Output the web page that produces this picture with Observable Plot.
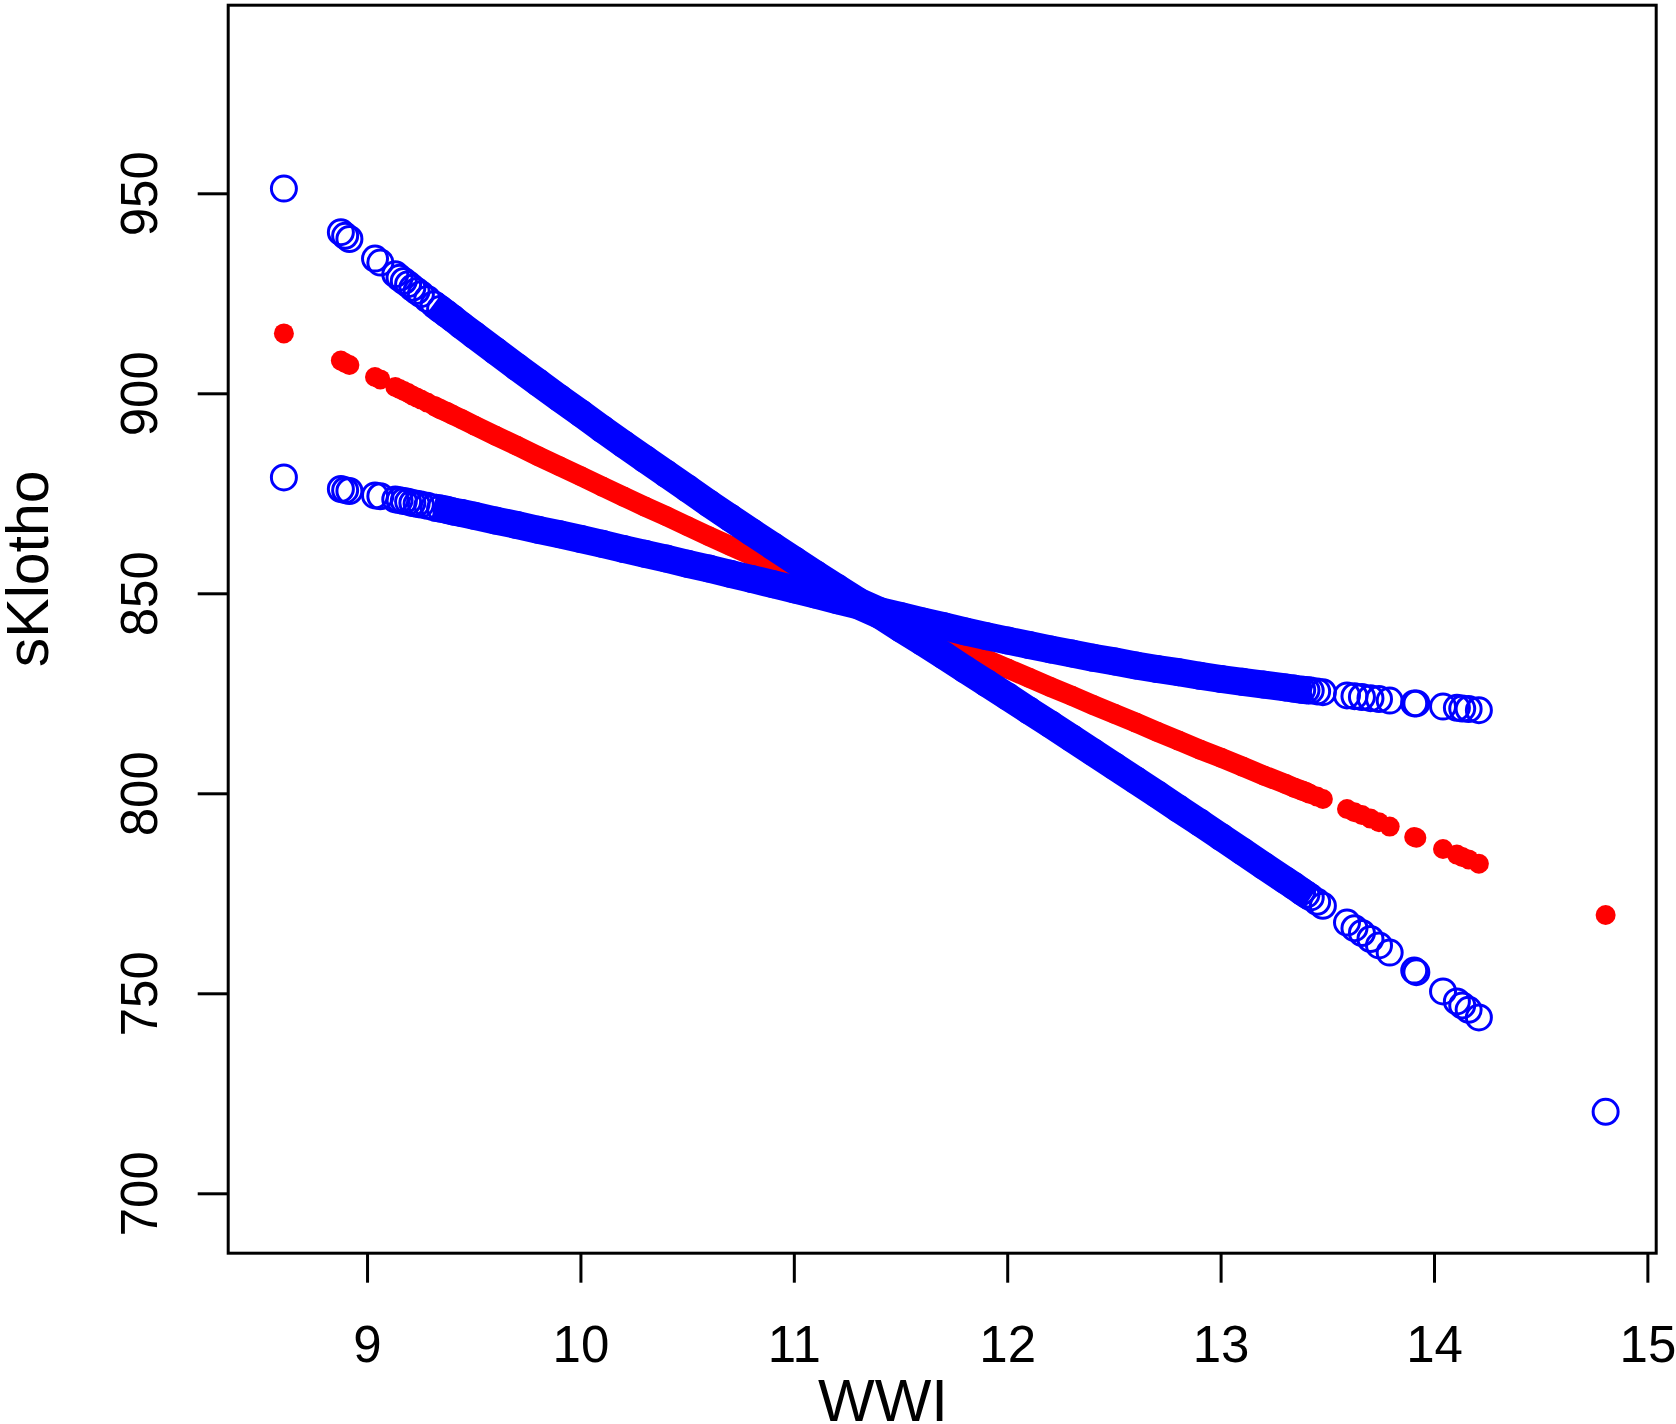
<!DOCTYPE html>
<html>
<head>
<meta charset="utf-8">
<script src="https://cdn.jsdelivr.net/npm/d3@7"></script>
<script src="https://cdn.jsdelivr.net/npm/@observablehq/plot@0.6"></script>
<style>
  html, body { margin: 0; padding: 0; background: #fff; overflow: hidden; }
  #chart svg { display: block; }
</style>
</head>
<body>
<div id="chart"></div>
<script>
// ---- data ----
const wwi = [8.608, 8.875, 8.895, 8.915, 9.035, 9.06,
  9.13, 9.15, 9.17, 9.19, 9.21, 9.23, 9.25, 9.28, 9.31, 9.34, 9.37, 9.4, 9.44, 9.5,
  9.6, 9.7, 9.8, 9.9, 10.0, 10.1, 10.2, 10.3, 10.4, 10.5, 10.6, 10.7, 10.8, 10.9, 11.0, 11.1, 11.2, 11.3, 11.4, 11.5,
  11.6, 11.7, 11.8, 11.9, 12.0, 12.1, 12.2, 12.3, 12.4, 12.5, 12.6, 12.7, 12.8, 12.9, 13.0, 13.1, 13.2, 13.3,
  13.34, 13.38, 13.4, 13.42, 13.45, 13.477,
  13.59, 13.625, 13.66, 13.7, 13.74, 13.79, 13.905, 13.915, 14.04, 14.105, 14.13, 14.16, 14.208, 14.802];

const fit = [915.1, 908.3, 907.7, 907.2, 904.2, 903.6,
  901.7, 901.2, 900.7, 900.2, 899.6, 899.1, 898.6, 897.8, 897.0, 896.2, 895.5, 894.7, 893.7, 892.1,
  889.5, 887.0, 884.4, 881.9, 879.4, 876.8, 874.3, 871.8, 869.4, 866.9, 864.4, 862.0, 859.6, 857.1, 854.7, 852.3, 850.0, 847.6, 845.2, 842.9,
  840.5, 838.2, 835.9, 833.6, 831.3, 829.0, 826.7, 824.5, 822.2, 820.0, 817.8, 815.5, 813.3, 811.1, 809.0, 806.8, 804.6, 802.5,
  801.6, 800.8, 800.4, 799.9, 799.3, 798.7,
  796.2, 795.4, 794.7, 793.8, 792.9, 791.8, 789.2, 789.0, 786.2, 784.8, 784.2, 783.6, 782.5, 769.7];

const upper = [951.3, 940.4, 939.5, 938.7, 933.8, 932.8,
  929.9, 929.0, 928.2, 927.4, 926.5, 925.7, 924.9, 923.7, 922.4, 921.2, 920.0, 918.8, 917.1, 914.7,
  910.7, 906.7, 902.8, 898.9, 895.1, 891.2, 887.4, 883.7, 880.0, 876.3, 872.6, 869.0, 865.4, 861.9, 858.4, 854.9, 851.5, 848.1, 845.7, 844.4,
  843.1, 841.9, 840.6, 839.4, 838.3, 837.2, 836.1, 835.1, 834.0, 833.1, 832.1, 831.2, 830.4, 829.5, 828.7, 828.0, 827.3, 826.6,
  826.3, 826.0, 825.9, 825.8, 825.6, 825.4,
  824.6, 824.4, 824.2, 823.9, 823.7, 823.3, 822.6, 822.6, 821.8, 821.5, 821.3, 821.2, 820.9, NaN];

const lower = [879.1, 876.2, 875.9, 875.7, 874.6, 874.4,
  873.6, 873.4, 873.2, 873.0, 872.7, 872.5, 872.3, 872.0, 871.6, 871.3, 871.0, 870.6, 870.2, 869.5,
  868.3, 867.2, 866.0, 864.9, 863.7, 862.5, 861.2, 860.0, 858.8, 857.5, 856.3, 855.0, 853.7, 852.4, 851.1, 849.8, 848.4, 847.1, 844.7, 841.3,
  838.0, 834.6, 831.1, 827.7, 824.3, 820.8, 817.4, 813.9, 810.4, 806.9, 803.4, 799.9, 796.3, 792.8, 789.2, 785.6, 782.0, 778.4,
  777.0, 775.5, 774.8, 774.1, 773.0, 772.0,
  767.8, 766.4, 765.2, 763.7, 762.1, 760.3, 755.8, 755.4, 750.6, 748.1, 747.1, 746.0, 744.1, 720.5];

// WWI range where observations are so dense they form a continuous band
const denseFrom = 9.3;
const denseTo = 13.42;

const xTicks = [9, 10, 11, 12, 13, 14, 15];
const yTicks = [700, 750, 800, 850, 900, 950];
const xTitle = "WWI";
const yTitle = "sKlotho";

// ---- chart ----
const rows = wwi.map((x, i) => ({wwi: x, fit: fit[i], upper: upper[i], lower: lower[i]}));
const dense = rows.filter(d => d.wwi >= denseFrom && d.wwi <= denseTo);

const RED = "#ff0000";
const BLUE = "#0000ff";
const FONT = "'Liberation Sans', Arial, Helvetica, sans-serif";
const LW = 3;

const chart = Plot.plot({
  width: 1676,
  height: 1424,
  marginLeft: 227.7,
  marginRight: 20.3,
  marginTop: 4.7,
  marginBottom: 171.3,
  style: {fontFamily: FONT, background: "white", color: "black"},
  x: {domain: [8.347, 15.039], label: null},
  y: {domain: [685.15, 997.15], label: null},
  marks: [
    Plot.line(dense, {x: "wwi", y: "fit", stroke: RED, strokeWidth: 20, strokeLinecap: "butt", strokeLinejoin: "round"}),
    Plot.dot(rows, {x: "wwi", y: "fit", r: 10, fill: RED}),
    Plot.line(dense, {x: "wwi", y: "upper", stroke: BLUE, strokeWidth: 28, strokeLinecap: "butt", strokeLinejoin: "round"}),
    Plot.line(dense, {x: "wwi", y: "lower", stroke: BLUE, strokeWidth: 28, strokeLinecap: "butt", strokeLinejoin: "round"}),
    Plot.dot(rows, {x: "wwi", y: "upper", r: 12.5, stroke: BLUE, strokeWidth: 3, fill: "none"}),
    Plot.dot(rows, {x: "wwi", y: "lower", r: 12.5, stroke: BLUE, strokeWidth: 3, fill: "none"}),
    Plot.frame({stroke: "black", strokeWidth: LW}),
    Plot.axisX(xTicks, {tickSize: 30, tickPadding: 42.3, fontSize: 51, strokeWidth: LW, tickFormat: d => String(d), label: null}),
    Plot.axisY(yTicks, {tickSize: 30, tickPadding: 41, tickRotate: -90, textAnchor: "middle", lineAnchor: "bottom", fontSize: 51, strokeWidth: LW, tickFormat: d => String(d), label: null}),
    Plot.text([xTitle], {text: d => d, frameAnchor: "bottom", dx: -59.2, dy: 168, fontSize: 60, textAnchor: "middle", lineAnchor: "bottom"}),
    Plot.text([yTitle], {text: d => d, frameAnchor: "left", dx: -180, dy: -60.4, rotate: -90, fontSize: 59, textAnchor: "middle", lineAnchor: "bottom"})
  ]
});

document.getElementById("chart").appendChild(chart);
</script>
</body>
</html>
